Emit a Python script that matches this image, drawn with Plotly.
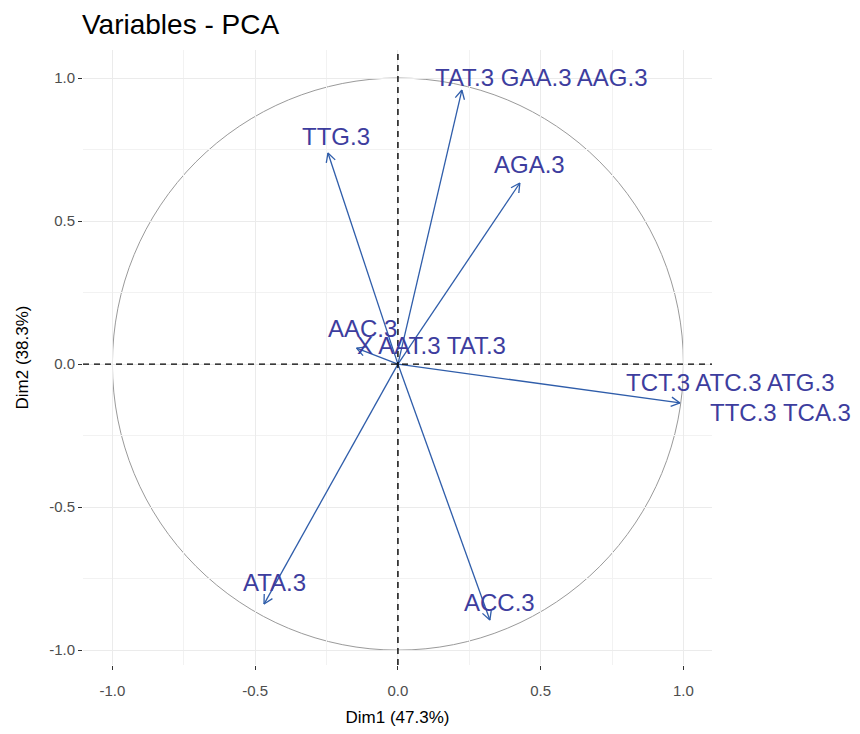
import numpy as np
import plotly.graph_objects as go

# ---- data ----
var_labels = ["TAT.3 GAA.3 AAG.3", "AGA.3", "TTG.3", "AAC.3",
              "TCT.3 ATC.3 ATG.3", "ATA.3", "ACC.3"]
dim1 = [0.224, 0.427, -0.245, -0.145, 0.988, -0.469, 0.322]
dim2 = [0.958, 0.633, 0.738, 0.056, -0.136, -0.839, -0.895]

# text labels as placed in the picture
text_labels = ["TAT.3 GAA.3 AAG.3", "AGA.3", "TTG.3", "AAC.3", "X AAT.3 TAT.3",
               "TCT.3 ATC.3 ATG.3", "TTC.3 TCA.3", "ATA.3", "ACC.3"]
text_x = [0.504, 0.462, -0.217, -0.123, 0.116, 1.166, 1.341, -0.434, 0.354]
text_y = [1.003, 0.696, 0.794, 0.126, 0.066, -0.066, -0.171, -0.762, -0.832]

title = "Variables - PCA"
xlab = "Dim1 (47.3%)"
ylab = "Dim2 (38.3%)"
tick_vals = [-1.0, -0.5, 0.0, 0.5, 1.0]
tick_text = ["-1.0", "-0.5", "0.0", "0.5", "1.0"]

XR = [-1.103, 1.10]
YR = [-1.052, 1.098]

ARROW = "#2F5DAA"
TEXT = "#3D3D9E"
FONT = "Liberation Sans, Arial"

fig = go.Figure()

# arrows (shaft + open head)
head = 0.035
ang = np.deg2rad(28)
xs, ys = [], []
for x, y in zip(dim1, dim2):
    xs += [0, x, None]
    ys += [0, y, None]
    th = np.arctan2(y, x)
    for s in (1, -1):
        xs += [x, x - head * np.cos(th + s * ang), None]
        ys += [y, y - head * np.sin(th + s * ang), None]
fig.add_trace(go.Scatter(x=xs, y=ys, mode="lines",
                         line=dict(color=ARROW, width=1.3),
                         hoverinfo="skip", showlegend=False))

# unit circle
fig.add_shape(type="circle", xref="x", yref="y", x0=-1, y0=-1, x1=1, y1=1,
              line=dict(color="#9A9A9A", width=1), layer="below")
# dashed axes
fig.add_shape(type="line", xref="paper", yref="y", x0=0, x1=1, y0=0, y1=0,
              line=dict(color="black", width=1.4, dash="6px,5px"))
fig.add_shape(type="line", xref="x", yref="paper", x0=0, x1=0, y0=0, y1=1,
              line=dict(color="black", width=1.4, dash="6px,5px"))

# labels (paper coordinates so labels beyond the panel stay visible)
for t, x, y in zip(text_labels, text_x, text_y):
    px = (x - XR[0]) / (XR[1] - XR[0])
    py = (y - YR[0]) / (YR[1] - YR[0])
    fig.add_annotation(x=px, y=py, xref="paper", yref="paper", text=t,
                       showarrow=False,
                       font=dict(family=FONT, size=24, color=TEXT),
                       xanchor="center", yanchor="middle")

axis_common = dict(
    tickvals=tick_vals, ticktext=tick_text,
    ticks="outside", ticklen=4, tickcolor="#333333", tickwidth=1,
    tickfont=dict(family=FONT, size=15, color="#4D4D4D"),
    showgrid=True, gridcolor="#EBEBEB", gridwidth=1,
    minor=dict(dtick=0.25, tick0=0, showgrid=True, gridcolor="#F2F2F2", gridwidth=0.6),
    zeroline=False, showline=False, automargin=False,
)

W, H = 852, 726  # page body has an 8px margin
fig.update_layout(
    width=W, height=H,
    paper_bgcolor="white", plot_bgcolor="white",
    margin=dict(l=75, r=148, t=42, b=69),
    title=dict(text=title, x=74 / W, xanchor="left", y=1 - 16 / H,
               yanchor="middle", xref="container", yref="container",
               font=dict(family=FONT, size=28, color="black")),
    xaxis=dict(range=XR, ticklabelstandoff=8,
               title=dict(text=xlab, standoff=13,
                          font=dict(family=FONT, size=17, color="black")),
               **axis_common),
    yaxis=dict(range=YR,
               title=dict(text=ylab, standoff=16,
                          font=dict(family=FONT, size=17, color="black")),
               **axis_common),
)

fig.write_html("out.html")
